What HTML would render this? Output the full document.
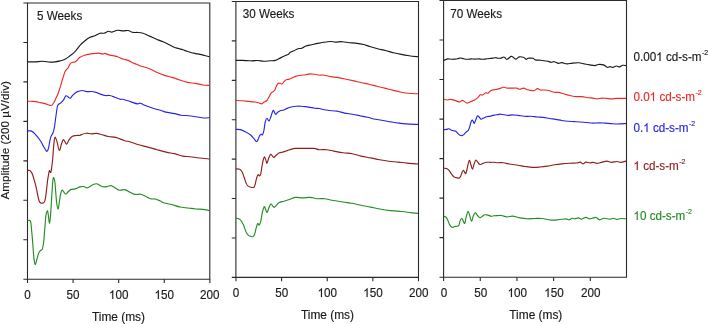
<!DOCTYPE html><html><head><meta charset="utf-8"><style>html,body{margin:0;padding:0;background:#fff;width:709px;height:324px;overflow:hidden}svg{display:block;will-change:transform}text{font-family:"Liberation Sans",sans-serif;stroke-width:0.15px}</style></head><body>
<svg width="709" height="324" viewBox="0 0 709 324">
<rect width="709" height="324" fill="#fff"/>
<path d="M27.5 3.0 H209.8 V279.2 H27.5 Z" fill="none" stroke="#2a2a2a" stroke-width="1.1"/>
<path d="M23.4 3.00 H27.5 M23.4 42.46 H27.5 M23.4 81.91 H27.5 M23.4 121.37 H27.5 M23.4 160.83 H27.5 M23.4 200.29 H27.5 M23.4 239.74 H27.5 M23.4 279.20 H27.5 M27.50 279.2 V283.0 M73.09 279.2 V283.0 M118.67 279.2 V283.0 M164.26 279.2 V283.0 M209.85 279.2 V283.0 " stroke="#2a2a2a" stroke-width="1.1" fill="none"/>
<g transform="translate(0 299.00) scale(1 1.045) translate(0 -299.00)"><text x="24.25" y="299.00" font-size="11.7" fill="#1a1a1a" stroke="#1a1a1a">0</text></g>
<g transform="translate(0 299.00) scale(1 1.045) translate(0 -299.00)"><text x="66.58" y="299.00" font-size="11.7" fill="#1a1a1a" stroke="#1a1a1a">50</text></g>
<g transform="translate(0 299.00) scale(1 1.045) translate(0 -299.00)"><text x="108.91" y="299.00" font-size="11.7" fill="#1a1a1a" stroke="#1a1a1a"> 00</text><path d="M113.27 299.00 L112.25 299.00 L112.25 292.45 C112.00 292.68 111.67 292.92 111.27 293.16 C110.87 293.39 110.51 293.57 110.20 293.69 L110.20 292.69 C110.77 292.42 111.26 292.10 111.69 291.72 C112.11 291.33 112.41 290.97 112.59 290.62 L113.27 290.62 Z" fill="#1a1a1a" stroke="#1a1a1a" stroke-width="0.15"/></g>
<g transform="translate(0 299.00) scale(1 1.045) translate(0 -299.00)"><text x="154.50" y="299.00" font-size="11.7" fill="#1a1a1a" stroke="#1a1a1a"> 50</text><path d="M158.86 299.00 L157.83 299.00 L157.83 292.45 C157.59 292.68 157.26 292.92 156.86 293.16 C156.46 293.39 156.10 293.57 155.79 293.69 L155.79 292.69 C156.35 292.42 156.85 292.10 157.27 291.72 C157.70 291.33 158.00 290.97 158.18 290.62 L158.86 290.62 Z" fill="#1a1a1a" stroke="#1a1a1a" stroke-width="0.15"/></g>
<g transform="translate(0 299.00) scale(1 1.045) translate(0 -299.00)"><text x="200.09" y="299.00" font-size="11.7" fill="#1a1a1a" stroke="#1a1a1a">200</text></g>
<g transform="translate(0 321.00) scale(1 1.045) translate(0 -321.00)"><text x="118.50" y="321.00" font-size="11.9" fill="#1a1a1a" stroke="#1a1a1a" text-anchor="middle">Time (ms)</text></g>
<g transform="translate(0 20.00) scale(1 1.045) translate(0 -20.00)"><text x="37.00" y="20.00" font-size="11.7" fill="#1a1a1a" stroke="#1a1a1a">5 Weeks</text></g>
<path d="M235.9 1.5 H418.5 V277.4 H235.9 Z" fill="none" stroke="#2a2a2a" stroke-width="1.1"/>
<path d="M231.8 1.50 H235.9 M231.8 40.91 H235.9 M231.8 80.33 H235.9 M231.8 119.74 H235.9 M231.8 159.16 H235.9 M231.8 198.57 H235.9 M231.8 237.99 H235.9 M231.8 277.40 H235.9 M235.95 277.4 V281.2 M281.59 277.4 V281.2 M327.23 277.4 V281.2 M372.86 277.4 V281.2 M418.50 277.4 V281.2 " stroke="#2a2a2a" stroke-width="1.1" fill="none"/>
<g transform="translate(0 297.00) scale(1 1.045) translate(0 -297.00)"><text x="232.85" y="297.00" font-size="11.7" fill="#1a1a1a" stroke="#1a1a1a">0</text></g>
<g transform="translate(0 297.00) scale(1 1.045) translate(0 -297.00)"><text x="275.23" y="297.00" font-size="11.7" fill="#1a1a1a" stroke="#1a1a1a">50</text></g>
<g transform="translate(0 297.00) scale(1 1.045) translate(0 -297.00)"><text x="317.61" y="297.00" font-size="11.7" fill="#1a1a1a" stroke="#1a1a1a"> 00</text><path d="M321.97 297.00 L320.95 297.00 L320.95 290.45 C320.70 290.68 320.37 290.92 319.97 291.16 C319.57 291.39 319.21 291.57 318.90 291.69 L318.90 290.69 C319.47 290.42 319.96 290.10 320.39 289.72 C320.81 289.33 321.11 288.97 321.29 288.62 L321.97 288.62 Z" fill="#1a1a1a" stroke="#1a1a1a" stroke-width="0.15"/></g>
<g transform="translate(0 297.00) scale(1 1.045) translate(0 -297.00)"><text x="363.25" y="297.00" font-size="11.7" fill="#1a1a1a" stroke="#1a1a1a"> 50</text><path d="M367.61 297.00 L366.58 297.00 L366.58 290.45 C366.34 290.68 366.01 290.92 365.61 291.16 C365.21 291.39 364.85 291.57 364.54 291.69 L364.54 290.69 C365.10 290.42 365.60 290.10 366.02 289.72 C366.45 289.33 366.75 288.97 366.93 288.62 L367.61 288.62 Z" fill="#1a1a1a" stroke="#1a1a1a" stroke-width="0.15"/></g>
<g transform="translate(0 297.00) scale(1 1.045) translate(0 -297.00)"><text x="408.89" y="297.00" font-size="11.7" fill="#1a1a1a" stroke="#1a1a1a">200</text></g>
<g transform="translate(0 319.00) scale(1 1.045) translate(0 -319.00)"><text x="327.50" y="319.00" font-size="11.9" fill="#1a1a1a" stroke="#1a1a1a" text-anchor="middle">Time (ms)</text></g>
<g transform="translate(0 18.00) scale(1 1.045) translate(0 -18.00)"><text x="242.70" y="18.00" font-size="11.7" fill="#1a1a1a" stroke="#1a1a1a">30 Weeks</text></g>
<path d="M443.6 0.5 H626.5 V277.2 H443.6 Z" fill="none" stroke="#2a2a2a" stroke-width="1.1"/>
<path d="M439.5 0.50 H443.6 M439.5 40.03 H443.6 M439.5 79.56 H443.6 M439.5 119.09 H443.6 M439.5 158.61 H443.6 M439.5 198.14 H443.6 M439.5 237.67 H443.6 M439.5 277.20 H443.6 M443.60 277.2 V281.0 M480.27 277.2 V281.0 M516.95 277.2 V281.0 M553.62 277.2 V281.0 M590.30 277.2 V281.0 " stroke="#2a2a2a" stroke-width="1.1" fill="none"/>
<g transform="translate(0 297.00) scale(1 1.045) translate(0 -297.00)"><text x="440.75" y="297.00" font-size="11.7" fill="#1a1a1a" stroke="#1a1a1a">0</text></g>
<g transform="translate(0 297.00) scale(1 1.045) translate(0 -297.00)"><text x="474.17" y="297.00" font-size="11.7" fill="#1a1a1a" stroke="#1a1a1a">50</text></g>
<g transform="translate(0 297.00) scale(1 1.045) translate(0 -297.00)"><text x="507.59" y="297.00" font-size="11.7" fill="#1a1a1a" stroke="#1a1a1a"> 00</text><path d="M511.95 297.00 L510.92 297.00 L510.92 290.45 C510.67 290.68 510.35 290.92 509.95 291.16 C509.55 291.39 509.19 291.57 508.87 291.69 L508.87 290.69 C509.44 290.42 509.94 290.10 510.36 289.72 C510.78 289.33 511.09 288.97 511.26 288.62 L511.95 288.62 Z" fill="#1a1a1a" stroke="#1a1a1a" stroke-width="0.15"/></g>
<g transform="translate(0 297.00) scale(1 1.045) translate(0 -297.00)"><text x="544.26" y="297.00" font-size="11.7" fill="#1a1a1a" stroke="#1a1a1a"> 50</text><path d="M548.62 297.00 L547.60 297.00 L547.60 290.45 C547.35 290.68 547.02 290.92 546.62 291.16 C546.22 291.39 545.86 291.57 545.55 291.69 L545.55 290.69 C546.12 290.42 546.61 290.10 547.04 289.72 C547.46 289.33 547.76 288.97 547.94 288.62 L548.62 288.62 Z" fill="#1a1a1a" stroke="#1a1a1a" stroke-width="0.15"/></g>
<g transform="translate(0 297.00) scale(1 1.045) translate(0 -297.00)"><text x="580.94" y="297.00" font-size="11.7" fill="#1a1a1a" stroke="#1a1a1a">200</text></g>
<g transform="translate(0 319.00) scale(1 1.045) translate(0 -319.00)"><text x="535.80" y="319.00" font-size="11.9" fill="#1a1a1a" stroke="#1a1a1a" text-anchor="middle">Time (ms)</text></g>
<g transform="translate(0 18.00) scale(1 1.045) translate(0 -18.00)"><text x="450.30" y="18.00" font-size="11.7" fill="#1a1a1a" stroke="#1a1a1a">70 Weeks</text></g>
<path d="M27.50 61.90 C28.75 61.90 32.58 62.00 35.00 61.90 C37.42 61.80 39.50 61.27 42.00 61.30 C44.50 61.33 47.83 62.00 50.00 62.10 C52.17 62.20 53.33 62.10 55.00 61.90 C56.67 61.70 58.33 61.33 60.00 60.90 C61.67 60.47 63.33 60.15 65.00 59.30 C66.67 58.45 68.33 57.08 70.00 55.80 C71.67 54.52 73.33 53.33 75.00 51.60 C76.67 49.87 78.33 47.20 80.00 45.40 C81.67 43.60 83.33 42.15 85.00 40.80 C86.67 39.45 88.33 38.15 90.00 37.30 C91.67 36.45 93.33 36.37 95.00 35.70 C96.67 35.03 98.47 33.72 100.00 33.30 C101.53 32.88 102.78 33.53 104.20 33.20 C105.62 32.87 107.20 31.48 108.50 31.30 C109.80 31.12 110.48 32.27 112.00 32.10 C113.52 31.93 115.72 30.50 117.60 30.30 C119.48 30.10 121.53 30.87 123.30 30.90 C125.07 30.93 126.68 30.27 128.20 30.50 C129.72 30.73 130.75 31.97 132.40 32.30 C134.05 32.63 136.33 32.33 138.10 32.50 C139.87 32.67 141.60 32.92 143.00 33.30 C144.40 33.68 145.33 34.28 146.50 34.80 C147.67 35.32 148.70 35.83 150.00 36.40 C151.30 36.97 152.87 37.58 154.30 38.20 C155.73 38.82 157.15 39.50 158.60 40.10 C160.05 40.70 161.55 41.18 163.00 41.80 C164.45 42.42 166.00 43.17 167.30 43.80 C168.60 44.43 169.65 45.03 170.80 45.60 C171.95 46.17 172.92 46.72 174.20 47.20 C175.48 47.68 177.07 48.07 178.50 48.50 C179.93 48.93 181.35 49.33 182.80 49.80 C184.25 50.27 185.75 50.82 187.20 51.30 C188.65 51.78 190.07 52.32 191.50 52.70 C192.93 53.08 194.37 53.32 195.80 53.60 C197.23 53.88 198.65 54.08 200.10 54.40 C201.55 54.72 202.93 55.10 204.50 55.50 C206.07 55.90 208.67 56.58 209.50 56.80" fill="none" stroke="#1a1a1a" stroke-width="1.15" stroke-linejoin="round" stroke-linecap="butt"/>
<path d="M27.50 101.30 C28.12 101.30 29.82 101.25 31.20 101.30 C32.58 101.35 34.27 101.38 35.80 101.60 C37.33 101.82 38.87 102.27 40.40 102.60 C41.93 102.93 43.72 103.25 45.00 103.60 C46.28 103.95 47.07 104.38 48.10 104.70 C49.13 105.02 50.30 105.75 51.20 105.50 C52.10 105.25 52.73 104.35 53.50 103.20 C54.27 102.05 55.02 100.27 55.80 98.60 C56.58 96.93 57.42 95.27 58.20 93.20 C58.98 91.13 59.73 88.65 60.50 86.20 C61.27 83.75 62.03 80.93 62.80 78.50 C63.57 76.07 64.20 73.40 65.10 71.60 C66.00 69.80 67.30 69.07 68.20 67.70 C69.10 66.33 69.73 64.30 70.50 63.40 C71.27 62.50 72.03 62.55 72.80 62.30 C73.57 62.05 74.33 62.28 75.10 61.90 C75.87 61.52 76.83 60.55 77.40 60.00 C77.97 59.45 78.07 59.05 78.50 58.60 C78.93 58.15 78.98 57.85 80.00 57.30 C81.02 56.75 83.00 55.83 84.60 55.30 C86.20 54.77 87.95 54.40 89.60 54.10 C91.25 53.80 92.95 53.67 94.50 53.50 C96.05 53.33 97.53 53.00 98.90 53.10 C100.27 53.20 101.68 54.05 102.70 54.10 C103.72 54.15 103.97 53.27 105.00 53.40 C106.03 53.53 107.48 54.50 108.90 54.90 C110.32 55.30 111.97 55.45 113.50 55.80 C115.03 56.15 116.55 56.47 118.10 57.00 C119.65 57.53 121.12 58.43 122.80 59.00 C124.48 59.57 126.67 59.83 128.20 60.40 C129.73 60.97 130.58 61.75 132.00 62.40 C133.42 63.05 135.17 63.67 136.70 64.30 C138.23 64.93 139.17 65.50 141.20 66.20 C143.23 66.90 146.33 67.48 148.90 68.50 C151.47 69.52 154.02 71.15 156.60 72.30 C159.18 73.45 161.82 74.55 164.40 75.40 C166.98 76.25 169.53 76.63 172.10 77.40 C174.67 78.17 177.23 79.17 179.80 80.00 C182.37 80.83 184.93 81.83 187.50 82.40 C190.07 82.97 192.63 82.97 195.20 83.40 C197.77 83.83 200.52 84.67 202.90 85.00 C205.28 85.33 208.40 85.33 209.50 85.40" fill="none" stroke="#ee2a24" stroke-width="1.15" stroke-linejoin="round" stroke-linecap="butt"/>
<path d="M27.50 131.00 C28.03 130.98 29.75 130.70 30.70 130.90 C31.65 131.10 32.17 131.33 33.20 132.20 C34.23 133.07 35.67 134.63 36.90 136.10 C38.13 137.57 39.58 139.45 40.60 141.00 C41.62 142.55 42.18 143.95 43.00 145.40 C43.82 146.85 44.83 148.72 45.50 149.70 C46.17 150.68 46.48 151.62 47.00 151.30 C47.52 150.98 48.13 149.52 48.60 147.80 C49.07 146.08 49.38 142.95 49.80 141.00 C50.22 139.05 50.58 137.43 51.10 136.10 C51.62 134.77 52.37 134.35 52.90 133.00 C53.43 131.65 53.82 130.67 54.30 128.00 C54.78 125.33 55.28 120.58 55.80 117.00 C56.32 113.42 56.95 108.58 57.40 106.50 C57.85 104.42 57.98 105.07 58.50 104.50 C59.02 103.93 60.05 103.45 60.50 103.10 C60.95 102.75 60.68 102.95 61.20 102.40 C61.72 101.85 62.82 100.90 63.60 99.80 C64.38 98.70 65.13 96.27 65.90 95.80 C66.67 95.33 67.48 96.60 68.20 97.00 C68.92 97.40 69.43 98.50 70.20 98.20 C70.97 97.90 71.85 96.17 72.80 95.20 C73.75 94.23 74.87 93.07 75.90 92.40 C76.93 91.73 77.97 91.52 79.00 91.20 C80.03 90.88 80.82 90.43 82.10 90.50 C83.38 90.57 85.17 91.43 86.70 91.60 C88.23 91.77 89.77 91.37 91.30 91.50 C92.83 91.63 94.35 91.95 95.90 92.40 C97.45 92.85 99.05 93.68 100.60 94.20 C102.15 94.72 103.67 95.28 105.20 95.50 C106.73 95.72 108.27 95.25 109.80 95.50 C111.33 95.75 112.70 96.37 114.40 97.00 C116.10 97.63 118.62 98.92 120.00 99.30 C121.38 99.68 120.97 98.92 122.70 99.30 C124.43 99.68 127.97 100.83 130.40 101.60 C132.83 102.37 135.62 103.63 137.30 103.90 C138.98 104.17 139.28 102.97 140.50 103.20 C141.72 103.43 142.52 104.47 144.60 105.30 C146.68 106.13 150.17 107.30 153.00 108.20 C155.83 109.10 159.45 110.05 161.60 110.70 C163.75 111.35 163.73 111.62 165.90 112.10 C168.07 112.58 172.08 113.08 174.60 113.60 C177.12 114.12 178.67 114.85 181.00 115.20 C183.33 115.55 186.07 115.43 188.60 115.70 C191.13 115.97 193.68 116.42 196.20 116.80 C198.72 117.18 201.48 117.85 203.70 118.00 C205.92 118.15 208.53 117.75 209.50 117.70" fill="none" stroke="#2626e6" stroke-width="1.15" stroke-linejoin="round" stroke-linecap="butt"/>
<path d="M27.50 170.40 C27.88 170.43 29.07 170.15 29.80 170.60 C30.53 171.05 31.35 172.17 31.90 173.10 C32.45 174.03 32.70 174.97 33.10 176.20 C33.50 177.43 33.88 179.07 34.30 180.50 C34.72 181.93 35.18 183.15 35.60 184.80 C36.02 186.45 36.40 188.45 36.80 190.40 C37.20 192.35 37.58 194.65 38.00 196.50 C38.42 198.35 38.78 200.40 39.30 201.50 C39.82 202.60 40.38 202.90 41.10 203.10 C41.82 203.30 42.98 203.07 43.60 202.70 C44.22 202.33 44.43 202.03 44.80 200.90 C45.17 199.77 45.48 197.97 45.80 195.90 C46.12 193.83 46.42 190.97 46.70 188.50 C46.98 186.03 47.20 183.37 47.50 181.10 C47.80 178.83 48.18 176.65 48.50 174.90 C48.82 173.15 49.00 171.08 49.40 170.60 C49.80 170.12 50.38 173.60 50.90 172.00 C51.42 170.40 52.05 165.17 52.50 161.00 C52.95 156.83 53.30 150.50 53.60 147.00 C53.90 143.50 54.05 141.67 54.30 140.00 C54.55 138.33 54.77 137.08 55.10 137.00 C55.43 136.92 55.95 138.62 56.30 139.50 C56.65 140.38 56.70 140.47 57.20 142.30 C57.70 144.13 58.57 150.30 59.30 150.50 C60.03 150.70 60.92 145.32 61.60 143.50 C62.28 141.68 62.78 139.80 63.40 139.60 C64.02 139.40 64.73 141.55 65.30 142.30 C65.87 143.05 66.18 144.52 66.80 144.10 C67.42 143.68 68.12 141.08 69.00 139.80 C69.88 138.52 70.87 137.12 72.10 136.40 C73.33 135.68 75.08 135.67 76.40 135.50 C77.72 135.33 79.18 135.55 80.00 135.40 C80.82 135.25 80.23 134.97 81.30 134.60 C82.37 134.23 84.78 133.33 86.40 133.20 C88.02 133.07 89.32 133.77 91.00 133.80 C92.68 133.83 94.67 133.25 96.50 133.40 C98.33 133.55 100.02 134.18 102.00 134.70 C103.98 135.22 106.10 136.05 108.40 136.50 C110.70 136.95 113.20 136.73 115.80 137.40 C118.40 138.07 121.57 139.73 124.00 140.50 C126.43 141.27 127.95 141.28 130.40 142.00 C132.85 142.72 135.80 143.95 138.70 144.80 C141.60 145.65 144.75 146.28 147.80 147.10 C150.85 147.92 153.93 148.87 157.00 149.70 C160.07 150.53 163.15 151.40 166.20 152.10 C169.25 152.80 172.55 153.23 175.30 153.90 C178.05 154.57 180.25 155.63 182.70 156.10 C185.15 156.57 187.25 156.38 190.00 156.70 C192.75 157.02 195.95 157.62 199.20 158.00 C202.45 158.38 207.78 158.83 209.50 159.00" fill="none" stroke="#8e1e1e" stroke-width="1.15" stroke-linejoin="round" stroke-linecap="butt"/>
<path d="M27.50 220.50 C28.00 220.63 29.82 219.72 30.50 221.30 C31.18 222.88 31.22 226.22 31.60 230.00 C31.98 233.78 32.42 239.35 32.80 244.00 C33.18 248.65 33.52 254.50 33.90 257.90 C34.28 261.30 34.63 264.02 35.10 264.40 C35.57 264.78 36.12 262.07 36.70 260.20 C37.28 258.33 37.98 254.82 38.60 253.20 C39.22 251.58 39.78 251.18 40.40 250.50 C41.02 249.82 41.75 250.57 42.30 249.10 C42.85 247.63 43.33 244.55 43.70 241.70 C44.07 238.85 44.27 234.70 44.50 232.00 C44.73 229.30 44.88 228.12 45.10 225.50 C45.32 222.88 45.43 218.73 45.80 216.30 C46.17 213.87 46.90 211.22 47.30 210.90 C47.70 210.58 47.83 212.30 48.20 214.40 C48.57 216.50 49.10 223.50 49.50 223.50 C49.90 223.50 50.20 219.32 50.60 214.40 C51.00 209.48 51.53 199.55 51.90 194.00 C52.27 188.45 52.50 183.83 52.80 181.10 C53.10 178.37 53.33 177.28 53.70 177.60 C54.07 177.92 54.53 179.02 55.00 183.00 C55.47 186.98 56.00 197.17 56.50 201.50 C57.00 205.83 57.53 208.85 58.00 209.00 C58.47 209.15 58.87 204.90 59.30 202.40 C59.73 199.90 60.13 196.07 60.60 194.00 C61.07 191.93 61.55 190.30 62.10 190.00 C62.65 189.70 63.28 191.50 63.90 192.20 C64.52 192.90 65.02 194.35 65.80 194.20 C66.58 194.05 67.68 192.10 68.60 191.30 C69.52 190.50 70.22 189.80 71.30 189.40 C72.38 189.00 73.65 189.32 75.10 188.90 C76.55 188.48 78.57 187.30 80.00 186.90 C81.43 186.50 82.48 186.35 83.70 186.50 C84.92 186.65 85.93 188.02 87.30 187.80 C88.67 187.58 90.37 185.87 91.90 185.20 C93.43 184.53 95.12 183.73 96.50 183.80 C97.88 183.87 98.98 185.08 100.20 185.60 C101.42 186.12 102.58 186.75 103.80 186.90 C105.02 187.05 106.27 186.72 107.50 186.50 C108.73 186.28 109.98 185.38 111.20 185.60 C112.42 185.82 113.43 187.03 114.80 187.80 C116.17 188.57 117.72 189.90 119.40 190.20 C121.08 190.50 123.22 189.30 124.90 189.60 C126.58 189.90 127.82 191.20 129.50 192.00 C131.18 192.80 133.17 194.03 135.00 194.40 C136.83 194.77 138.82 193.93 140.50 194.20 C142.18 194.47 143.42 195.23 145.10 196.00 C146.78 196.77 148.92 198.30 150.60 198.80 C152.28 199.30 153.67 198.67 155.20 199.00 C156.73 199.33 158.28 200.13 159.80 200.80 C161.32 201.47 162.32 202.38 164.30 203.00 C166.28 203.62 169.10 203.83 171.70 204.50 C174.30 205.17 177.15 206.42 179.90 207.00 C182.65 207.58 185.60 207.67 188.20 208.00 C190.80 208.33 193.07 208.77 195.50 209.00 C197.93 209.23 200.47 209.12 202.80 209.40 C205.13 209.68 208.38 210.48 209.50 210.70" fill="none" stroke="#258d25" stroke-width="1.15" stroke-linejoin="round" stroke-linecap="butt"/>
<path d="M235.90 60.40 C236.97 60.40 239.70 60.33 242.30 60.40 C244.90 60.47 248.93 60.78 251.50 60.80 C254.07 60.82 255.65 60.43 257.70 60.50 C259.75 60.57 261.75 61.15 263.80 61.20 C265.85 61.25 268.07 60.93 270.00 60.80 C271.93 60.67 273.85 60.78 275.40 60.40 C276.95 60.02 277.88 59.20 279.30 58.50 C280.72 57.80 282.37 56.92 283.90 56.20 C285.43 55.48 287.48 54.83 288.50 54.20 C289.52 53.57 289.08 52.97 290.00 52.40 C290.92 51.83 292.68 51.42 294.00 50.80 C295.32 50.18 296.60 49.13 297.90 48.70 C299.20 48.27 300.48 48.65 301.80 48.20 C303.12 47.75 304.15 46.58 305.80 46.00 C307.45 45.42 309.73 45.13 311.70 44.70 C313.67 44.27 315.62 43.80 317.60 43.40 C319.58 43.00 321.45 42.62 323.60 42.30 C325.75 41.98 328.53 41.53 330.50 41.50 C332.47 41.47 333.43 42.07 335.40 42.10 C337.37 42.13 340.00 41.60 342.30 41.70 C344.60 41.80 346.98 42.47 349.20 42.70 C351.42 42.93 353.17 42.80 355.60 43.10 C358.03 43.40 361.45 43.93 363.80 44.50 C366.15 45.07 367.40 45.78 369.70 46.50 C372.00 47.22 374.97 48.13 377.60 48.80 C380.23 49.47 382.87 49.85 385.50 50.50 C388.13 51.15 390.77 52.05 393.40 52.70 C396.03 53.35 398.67 53.90 401.30 54.40 C403.93 54.90 406.42 55.30 409.20 55.70 C411.98 56.10 416.53 56.62 418.00 56.80" fill="none" stroke="#1a1a1a" stroke-width="1.15" stroke-linejoin="round" stroke-linecap="butt"/>
<path d="M235.90 100.50 C236.97 100.55 240.22 100.65 242.30 100.80 C244.38 100.95 246.35 101.20 248.40 101.40 C250.45 101.60 252.93 101.77 254.60 102.00 C256.27 102.23 257.25 102.48 258.40 102.80 C259.55 103.12 260.60 103.98 261.50 103.90 C262.40 103.82 262.90 102.87 263.80 102.30 C264.70 101.73 266.00 101.45 266.90 100.50 C267.80 99.55 268.48 97.88 269.20 96.60 C269.92 95.32 270.50 93.65 271.20 92.80 C271.90 91.95 272.77 92.02 273.40 91.50 C274.03 90.98 274.48 90.65 275.00 89.70 C275.52 88.75 276.00 86.83 276.50 85.80 C277.00 84.77 277.42 83.93 278.00 83.50 C278.58 83.07 279.33 83.12 280.00 83.20 C280.67 83.28 281.35 84.25 282.00 84.00 C282.65 83.75 283.20 82.42 283.90 81.70 C284.60 80.98 285.30 80.12 286.20 79.70 C287.10 79.28 288.27 79.52 289.30 79.20 C290.33 78.88 291.25 78.32 292.40 77.80 C293.55 77.28 294.78 76.52 296.20 76.10 C297.62 75.68 299.35 75.53 300.90 75.30 C302.45 75.07 303.97 74.93 305.50 74.70 C307.03 74.47 308.57 73.97 310.10 73.90 C311.63 73.83 313.15 74.08 314.70 74.30 C316.25 74.52 318.02 75.08 319.40 75.20 C320.78 75.32 321.12 74.77 323.00 75.00 C324.88 75.23 328.13 76.17 330.70 76.60 C333.27 77.03 335.83 77.17 338.40 77.60 C340.97 78.03 343.53 78.65 346.10 79.20 C348.67 79.75 351.22 80.32 353.80 80.90 C356.38 81.48 359.02 82.13 361.60 82.70 C364.18 83.27 366.73 83.70 369.30 84.30 C371.87 84.90 374.43 85.67 377.00 86.30 C379.57 86.93 382.13 87.47 384.70 88.10 C387.27 88.73 389.83 89.45 392.40 90.10 C394.97 90.75 397.53 91.48 400.10 92.00 C402.67 92.52 404.82 92.90 407.80 93.20 C410.78 93.50 416.30 93.70 418.00 93.80" fill="none" stroke="#ee2a24" stroke-width="1.15" stroke-linejoin="round" stroke-linecap="butt"/>
<path d="M235.90 129.40 C236.65 129.43 238.83 129.22 240.40 129.60 C241.97 129.98 243.65 130.85 245.30 131.70 C246.95 132.55 248.85 133.55 250.30 134.70 C251.75 135.85 252.97 137.43 254.00 138.60 C255.03 139.77 255.78 141.63 256.50 141.70 C257.22 141.77 257.80 139.97 258.30 139.00 C258.80 138.03 259.03 136.70 259.50 135.90 C259.97 135.10 260.58 134.38 261.10 134.20 C261.62 134.02 262.13 135.42 262.60 134.80 C263.07 134.18 263.45 132.70 263.90 130.50 C264.35 128.30 264.78 123.63 265.30 121.60 C265.82 119.57 266.38 118.40 267.00 118.30 C267.62 118.20 268.38 121.17 269.00 121.00 C269.62 120.83 270.15 118.75 270.70 117.30 C271.25 115.85 271.82 113.43 272.30 112.30 C272.78 111.17 273.05 110.17 273.60 110.50 C274.15 110.83 274.92 114.02 275.60 114.30 C276.28 114.58 276.83 112.83 277.70 112.20 C278.57 111.57 279.77 110.87 280.80 110.50 C281.83 110.13 282.87 110.35 283.90 110.00 C284.93 109.65 285.77 108.90 287.00 108.40 C288.23 107.90 289.77 107.35 291.30 107.00 C292.83 106.65 294.60 106.43 296.20 106.30 C297.80 106.17 299.35 106.15 300.90 106.20 C302.45 106.25 303.97 106.40 305.50 106.60 C307.03 106.80 308.57 107.13 310.10 107.40 C311.63 107.67 313.15 108.02 314.70 108.20 C316.25 108.38 318.02 108.28 319.40 108.50 C320.78 108.72 321.37 109.17 323.00 109.50 C324.63 109.83 326.88 110.23 329.20 110.50 C331.52 110.77 334.33 110.67 336.90 111.10 C339.47 111.53 342.03 112.58 344.60 113.10 C347.17 113.62 349.73 113.77 352.30 114.20 C354.87 114.63 357.43 115.18 360.00 115.70 C362.57 116.22 365.13 116.70 367.70 117.30 C370.27 117.90 372.83 118.77 375.40 119.30 C377.97 119.83 380.52 120.07 383.10 120.50 C385.68 120.93 388.32 121.47 390.90 121.90 C393.48 122.33 396.03 122.77 398.60 123.10 C401.17 123.43 403.07 123.68 406.30 123.90 C409.53 124.12 416.05 124.32 418.00 124.40" fill="none" stroke="#2626e6" stroke-width="1.15" stroke-linejoin="round" stroke-linecap="butt"/>
<path d="M235.90 168.90 C236.55 168.97 238.73 168.73 239.80 169.30 C240.87 169.87 241.58 170.97 242.30 172.30 C243.02 173.63 243.48 175.55 244.10 177.30 C244.72 179.05 245.38 181.37 246.00 182.80 C246.62 184.23 246.98 185.17 247.80 185.90 C248.62 186.63 249.87 186.98 250.90 187.20 C251.93 187.42 253.28 187.72 254.00 187.20 C254.72 186.68 254.78 185.55 255.20 184.10 C255.62 182.65 256.02 180.08 256.50 178.50 C256.98 176.92 257.60 175.02 258.10 174.60 C258.60 174.18 259.05 176.17 259.50 176.00 C259.95 175.83 260.38 175.23 260.80 173.60 C261.22 171.97 261.60 168.47 262.00 166.20 C262.40 163.93 262.78 161.55 263.20 160.00 C263.62 158.45 264.08 156.97 264.50 156.90 C264.92 156.83 265.28 158.53 265.70 159.60 C266.12 160.67 266.48 163.60 267.00 163.30 C267.52 163.00 268.18 159.30 268.80 157.80 C269.42 156.30 270.12 154.62 270.70 154.30 C271.28 153.98 271.80 155.38 272.30 155.90 C272.80 156.42 273.05 157.50 273.70 157.40 C274.35 157.30 275.27 156.07 276.20 155.30 C277.13 154.53 278.27 153.32 279.30 152.80 C280.33 152.28 281.27 152.50 282.40 152.20 C283.53 151.90 284.87 151.40 286.10 151.00 C287.33 150.60 288.27 150.23 289.80 149.80 C291.33 149.37 293.15 148.63 295.30 148.40 C297.45 148.17 299.63 148.40 302.70 148.40 C305.77 148.40 310.95 148.18 313.70 148.40 C316.45 148.62 317.07 149.48 319.20 149.70 C321.33 149.92 324.07 149.47 326.50 149.70 C328.93 149.93 331.05 150.58 333.80 151.10 C336.55 151.62 339.93 152.37 343.00 152.80 C346.07 153.23 349.15 153.15 352.20 153.70 C355.25 154.25 358.25 155.40 361.30 156.10 C364.35 156.80 367.43 157.28 370.50 157.90 C373.57 158.52 376.65 159.25 379.70 159.80 C382.75 160.35 385.75 160.82 388.80 161.20 C391.85 161.58 394.93 161.78 398.00 162.10 C401.07 162.42 403.87 162.78 407.20 163.10 C410.53 163.42 416.20 163.85 418.00 164.00" fill="none" stroke="#8e1e1e" stroke-width="1.15" stroke-linejoin="round" stroke-linecap="butt"/>
<path d="M235.90 218.10 C236.45 218.23 238.27 218.38 239.20 218.90 C240.13 219.42 240.73 220.05 241.50 221.20 C242.27 222.35 243.03 224.00 243.80 225.80 C244.57 227.60 245.33 230.40 246.10 232.00 C246.87 233.60 247.63 234.68 248.40 235.40 C249.17 236.12 249.92 236.10 250.70 236.30 C251.48 236.50 252.45 236.93 253.10 236.60 C253.75 236.27 254.10 235.70 254.60 234.30 C255.10 232.90 255.58 230.00 256.10 228.20 C256.62 226.40 257.18 224.02 257.70 223.50 C258.22 222.98 258.68 225.48 259.20 225.10 C259.72 224.72 260.28 223.27 260.80 221.20 C261.32 219.13 261.73 215.13 262.30 212.70 C262.87 210.27 263.63 207.10 264.20 206.60 C264.77 206.10 265.20 208.75 265.70 209.70 C266.20 210.65 266.68 212.57 267.20 212.30 C267.72 212.03 268.20 209.50 268.80 208.10 C269.40 206.70 270.13 204.23 270.80 203.90 C271.47 203.57 272.22 205.53 272.80 206.10 C273.38 206.67 273.60 207.55 274.30 207.30 C275.00 207.05 276.17 205.42 277.00 204.60 C277.83 203.78 278.15 202.97 279.30 202.40 C280.45 201.83 282.37 201.63 283.90 201.20 C285.43 200.77 286.60 200.43 288.50 199.80 C290.40 199.17 292.93 197.73 295.30 197.40 C297.67 197.07 300.25 197.80 302.70 197.80 C305.15 197.80 307.57 197.25 310.00 197.40 C312.43 197.55 314.85 198.48 317.30 198.70 C319.75 198.92 322.25 198.45 324.70 198.70 C327.15 198.95 328.95 199.65 332.00 200.20 C335.05 200.75 339.63 201.48 343.00 202.00 C346.37 202.52 349.15 202.75 352.20 203.30 C355.25 203.85 358.25 204.67 361.30 205.30 C364.35 205.93 367.43 206.48 370.50 207.10 C373.57 207.72 376.33 208.42 379.70 209.00 C383.07 209.58 387.03 210.18 390.70 210.60 C394.37 211.02 398.35 211.17 401.70 211.50 C405.05 211.83 408.08 212.28 410.80 212.60 C413.52 212.92 416.80 213.27 418.00 213.40" fill="none" stroke="#258d25" stroke-width="1.15" stroke-linejoin="round" stroke-linecap="butt"/>
<path d="M443.90 60.40 C444.17 60.27 444.85 59.85 445.50 59.60 C446.15 59.35 446.88 58.97 447.80 58.90 C448.72 58.83 449.88 59.17 451.00 59.20 C452.12 59.23 453.42 59.17 454.50 59.10 C455.58 59.03 456.50 58.98 457.50 58.80 C458.50 58.62 459.58 58.03 460.50 58.00 C461.42 57.97 462.17 58.40 463.00 58.60 C463.83 58.80 464.58 59.10 465.50 59.20 C466.42 59.30 467.50 59.25 468.50 59.20 C469.50 59.15 470.42 58.92 471.50 58.90 C472.58 58.88 473.73 59.10 475.00 59.10 C476.27 59.10 477.93 58.88 479.10 58.90 C480.27 58.92 481.02 59.17 482.00 59.20 C482.98 59.23 483.65 59.22 485.00 59.10 C486.35 58.98 488.42 58.73 490.10 58.50 C491.78 58.27 494.03 57.80 495.10 57.70 C496.17 57.60 496.02 57.82 496.50 57.90 C496.98 57.98 497.22 58.17 498.00 58.20 C498.78 58.23 500.33 58.30 501.20 58.10 C502.07 57.90 502.60 57.10 503.20 57.00 C503.80 56.90 504.17 57.12 504.80 57.50 C505.43 57.88 505.95 59.48 507.00 59.30 C508.05 59.12 510.12 56.77 511.10 56.40 C512.08 56.03 512.12 56.65 512.90 57.10 C513.68 57.55 514.75 59.13 515.80 59.10 C516.85 59.07 517.95 57.20 519.20 56.90 C520.45 56.60 522.10 56.90 523.30 57.30 C524.50 57.70 525.65 59.15 526.40 59.30 C527.15 59.45 527.20 58.40 527.80 58.20 C528.40 58.00 529.10 58.08 530.00 58.10 C530.90 58.12 532.32 58.00 533.20 58.30 C534.08 58.60 534.03 59.58 535.30 59.90 C536.57 60.22 539.32 60.05 540.80 60.20 C542.28 60.35 542.92 60.60 544.20 60.80 C545.48 61.00 547.37 61.15 548.50 61.40 C549.63 61.65 550.05 62.25 551.00 62.30 C551.95 62.35 552.95 61.52 554.20 61.70 C555.45 61.88 557.25 63.25 558.50 63.40 C559.75 63.55 560.27 62.52 561.70 62.60 C563.13 62.68 565.32 63.82 567.10 63.90 C568.88 63.98 570.43 63.28 572.40 63.10 C574.37 62.92 576.93 62.67 578.90 62.80 C580.87 62.93 582.42 63.55 584.20 63.90 C585.98 64.25 587.82 64.62 589.60 64.90 C591.38 65.18 593.47 65.67 594.90 65.60 C596.33 65.53 596.77 64.62 598.20 64.50 C599.63 64.38 601.98 64.43 603.50 64.90 C605.02 65.37 606.22 67.02 607.30 67.30 C608.38 67.58 609.10 66.58 610.00 66.60 C610.90 66.62 611.63 67.50 612.70 67.40 C613.77 67.30 615.25 66.08 616.40 66.00 C617.55 65.92 618.53 67.02 619.60 66.90 C620.67 66.78 621.73 65.52 622.80 65.30 C623.87 65.08 625.47 65.55 626.00 65.60" fill="none" stroke="#1a1a1a" stroke-width="1.15" stroke-linejoin="round" stroke-linecap="butt"/>
<path d="M443.90 99.40 C444.45 99.50 446.13 100.00 447.20 100.00 C448.27 100.00 449.02 99.33 450.30 99.40 C451.58 99.47 453.37 99.97 454.90 100.40 C456.43 100.83 458.22 102.00 459.50 102.00 C460.78 102.00 461.37 100.22 462.60 100.40 C463.83 100.58 465.48 102.92 466.90 103.10 C468.32 103.28 469.77 102.07 471.10 101.50 C472.43 100.93 473.75 100.38 474.90 99.70 C476.05 99.02 477.10 98.23 478.00 97.40 C478.90 96.57 479.53 95.10 480.30 94.70 C481.07 94.30 481.70 95.33 482.60 95.00 C483.50 94.67 484.80 93.00 485.70 92.70 C486.60 92.40 487.10 93.58 488.00 93.20 C488.90 92.82 489.93 90.98 491.10 90.40 C492.27 89.82 493.58 90.00 495.00 89.70 C496.42 89.40 498.18 89.00 499.60 88.60 C501.02 88.20 502.22 87.38 503.50 87.30 C504.78 87.22 505.90 87.97 507.30 88.10 C508.70 88.23 510.35 88.10 511.90 88.10 C513.45 88.10 515.30 87.92 516.60 88.10 C517.90 88.28 518.55 89.20 519.70 89.20 C520.85 89.20 522.22 88.02 523.50 88.10 C524.78 88.18 526.15 89.32 527.40 89.70 C528.65 90.08 529.88 90.23 531.00 90.40 C532.12 90.57 533.02 91.00 534.10 90.70 C535.18 90.40 536.47 88.72 537.50 88.60 C538.53 88.48 539.07 89.77 540.30 90.00 C541.53 90.23 543.37 89.88 544.90 90.00 C546.43 90.12 547.97 90.32 549.50 90.70 C551.03 91.08 552.55 92.02 554.10 92.30 C555.65 92.58 557.25 92.15 558.80 92.40 C560.35 92.65 561.60 93.28 563.40 93.80 C565.20 94.32 567.55 95.03 569.60 95.50 C571.65 95.97 573.65 96.42 575.70 96.60 C577.75 96.78 579.83 96.42 581.90 96.60 C583.97 96.78 586.30 97.45 588.10 97.70 C589.90 97.95 591.17 97.90 592.70 98.10 C594.23 98.30 595.77 98.90 597.30 98.90 C598.83 98.90 600.35 98.18 601.90 98.10 C603.45 98.02 605.05 98.27 606.60 98.40 C608.15 98.53 609.40 98.90 611.20 98.90 C613.00 98.90 614.93 98.48 617.40 98.40 C619.87 98.32 624.57 98.40 626.00 98.40" fill="none" stroke="#ee2a24" stroke-width="1.15" stroke-linejoin="round" stroke-linecap="butt"/>
<path d="M443.90 129.70 C444.35 129.65 445.75 129.55 446.60 129.40 C447.45 129.25 448.18 128.65 449.00 128.80 C449.82 128.95 450.67 129.95 451.50 130.30 C452.33 130.65 453.28 130.75 454.00 130.90 C454.72 131.05 455.18 130.78 455.80 131.20 C456.42 131.62 457.08 132.78 457.70 133.40 C458.32 134.02 458.78 134.53 459.50 134.90 C460.22 135.27 461.28 135.65 462.00 135.60 C462.72 135.55 463.18 135.13 463.80 134.60 C464.42 134.07 465.13 132.97 465.70 132.40 C466.27 131.83 466.75 131.55 467.20 131.20 C467.65 130.85 468.00 130.97 468.40 130.30 C468.80 129.63 469.18 128.53 469.60 127.20 C470.02 125.87 470.48 123.48 470.90 122.30 C471.32 121.12 471.70 120.20 472.10 120.10 C472.50 120.00 472.93 121.17 473.30 121.70 C473.67 122.23 473.88 123.62 474.30 123.30 C474.72 122.98 475.28 121.03 475.80 119.80 C476.32 118.57 476.82 116.32 477.40 115.90 C477.98 115.48 478.68 116.75 479.30 117.30 C479.92 117.85 480.38 119.08 481.10 119.20 C481.82 119.32 482.67 118.42 483.60 118.00 C484.53 117.58 485.57 117.00 486.70 116.70 C487.83 116.40 489.17 116.47 490.40 116.20 C491.63 115.93 492.87 115.37 494.10 115.10 C495.33 114.83 496.65 114.75 497.80 114.60 C498.95 114.45 499.28 114.07 501.00 114.20 C502.72 114.33 506.28 115.30 508.10 115.40 C509.92 115.50 510.23 114.80 511.90 114.80 C513.57 114.80 516.03 115.15 518.10 115.40 C520.17 115.65 522.15 116.15 524.30 116.30 C526.45 116.45 528.85 116.18 531.00 116.30 C533.15 116.42 535.15 116.82 537.20 117.00 C539.25 117.18 541.25 117.15 543.30 117.40 C545.35 117.65 547.43 118.17 549.50 118.50 C551.57 118.83 553.65 119.07 555.70 119.40 C557.75 119.73 559.75 120.18 561.80 120.50 C563.85 120.82 565.93 121.12 568.00 121.30 C570.07 121.48 572.13 121.48 574.20 121.60 C576.27 121.72 578.35 121.85 580.40 122.00 C582.45 122.15 584.45 122.32 586.50 122.50 C588.55 122.68 590.63 123.05 592.70 123.10 C594.77 123.15 596.85 122.80 598.90 122.80 C600.95 122.80 602.95 122.97 605.00 123.10 C607.05 123.23 609.13 123.45 611.20 123.60 C613.27 123.75 614.93 124.00 617.40 124.00 C619.87 124.00 624.57 123.67 626.00 123.60" fill="none" stroke="#2626e6" stroke-width="1.15" stroke-linejoin="round" stroke-linecap="butt"/>
<path d="M443.90 168.20 C444.35 168.25 445.75 168.15 446.60 168.50 C447.45 168.85 448.18 169.38 449.00 170.30 C449.82 171.22 450.67 172.90 451.50 174.00 C452.33 175.10 453.18 176.28 454.00 176.90 C454.82 177.52 455.52 177.50 456.40 177.70 C457.28 177.90 458.57 178.40 459.30 178.10 C460.03 177.80 460.32 176.93 460.80 175.90 C461.28 174.87 461.75 172.83 462.20 171.90 C462.65 170.97 463.08 170.22 463.50 170.30 C463.92 170.38 464.30 171.88 464.70 172.40 C465.10 172.92 465.48 174.05 465.90 173.40 C466.32 172.75 466.78 170.25 467.20 168.50 C467.62 166.75 468.00 164.25 468.40 162.90 C468.80 161.55 469.18 160.08 469.60 160.40 C470.02 160.72 470.42 163.35 470.90 164.80 C471.38 166.25 471.97 169.22 472.50 169.10 C473.03 168.98 473.55 165.60 474.10 164.10 C474.65 162.60 475.18 160.40 475.80 160.10 C476.42 159.80 477.12 161.57 477.80 162.30 C478.48 163.03 479.03 164.33 479.90 164.50 C480.77 164.67 481.87 163.67 483.00 163.30 C484.13 162.93 485.47 162.47 486.70 162.30 C487.93 162.13 489.17 162.30 490.40 162.30 C491.63 162.30 492.87 162.23 494.10 162.30 C495.33 162.37 496.27 162.62 497.80 162.70 C499.33 162.78 501.15 162.53 503.30 162.80 C505.45 163.07 508.25 163.90 510.70 164.30 C513.15 164.70 515.57 164.83 518.00 165.20 C520.43 165.57 522.85 166.13 525.30 166.50 C527.75 166.87 530.25 167.32 532.70 167.40 C535.15 167.48 537.57 167.22 540.00 167.00 C542.43 166.78 544.85 166.47 547.30 166.10 C549.75 165.73 552.25 165.17 554.70 164.80 C557.15 164.43 559.57 164.15 562.00 163.90 C564.43 163.65 566.85 163.45 569.30 163.30 C571.75 163.15 574.87 163.20 576.70 163.00 C578.53 162.80 579.23 161.95 580.30 162.10 C581.37 162.25 582.18 163.90 583.10 163.90 C584.02 163.90 584.73 162.28 585.80 162.10 C586.87 161.92 588.27 162.75 589.50 162.80 C590.73 162.85 591.98 162.32 593.20 162.40 C594.42 162.48 595.43 163.30 596.80 163.30 C598.17 163.30 599.72 162.77 601.40 162.40 C603.08 162.03 605.22 161.10 606.90 161.10 C608.58 161.10 609.82 162.33 611.50 162.40 C613.18 162.47 615.47 161.50 617.00 161.50 C618.53 161.50 619.20 162.47 620.70 162.40 C622.20 162.33 625.12 161.32 626.00 161.10" fill="none" stroke="#8e1e1e" stroke-width="1.15" stroke-linejoin="round" stroke-linecap="butt"/>
<path d="M443.90 216.60 C444.23 216.67 445.25 216.38 445.90 217.00 C446.55 217.62 447.18 219.03 447.80 220.30 C448.42 221.57 448.88 223.43 449.60 224.60 C450.32 225.77 451.27 226.98 452.10 227.30 C452.93 227.62 453.78 226.68 454.60 226.50 C455.42 226.32 456.28 226.42 457.00 226.20 C457.72 225.98 458.38 226.08 458.90 225.20 C459.42 224.32 459.63 222.07 460.10 220.90 C460.57 219.73 461.18 218.20 461.70 218.20 C462.22 218.20 462.70 220.03 463.20 220.90 C463.70 221.77 464.18 224.12 464.70 223.40 C465.22 222.68 465.72 218.60 466.30 216.60 C466.88 214.60 467.58 211.40 468.20 211.40 C468.82 211.40 469.43 214.97 470.00 216.60 C470.57 218.23 471.05 221.30 471.60 221.20 C472.15 221.10 472.68 217.42 473.30 216.00 C473.92 214.58 474.62 212.80 475.30 212.70 C475.98 212.60 476.63 214.55 477.40 215.40 C478.17 216.25 479.07 217.67 479.90 217.80 C480.73 217.93 481.58 216.70 482.40 216.20 C483.22 215.70 483.88 214.98 484.80 214.80 C485.72 214.62 486.87 214.87 487.90 215.10 C488.93 215.33 489.97 216.10 491.00 216.20 C492.03 216.30 492.97 215.80 494.10 215.70 C495.23 215.60 496.57 215.63 497.80 215.60 C499.03 215.57 499.97 215.27 501.50 215.50 C503.03 215.73 505.17 216.90 507.00 217.00 C508.83 217.10 510.37 215.95 512.50 216.10 C514.63 216.25 517.35 217.45 519.80 217.90 C522.25 218.35 524.75 218.70 527.20 218.80 C529.65 218.90 532.07 218.55 534.50 218.50 C536.93 218.45 539.05 218.23 541.80 218.50 C544.55 218.77 548.25 219.88 551.00 220.10 C553.75 220.32 555.85 220.02 558.30 219.80 C560.75 219.58 563.87 218.80 565.70 218.80 C567.53 218.80 568.23 219.88 569.30 219.80 C570.37 219.72 571.18 218.47 572.10 218.30 C573.02 218.13 573.73 218.87 574.80 218.80 C575.87 218.73 577.42 217.83 578.50 217.90 C579.58 217.97 580.08 219.28 581.30 219.20 C582.52 219.12 584.43 217.47 585.80 217.40 C587.17 217.33 588.42 218.65 589.50 218.80 C590.58 218.95 591.23 218.53 592.30 218.30 C593.37 218.07 594.68 217.15 595.90 217.40 C597.12 217.65 598.22 219.65 599.60 219.80 C600.98 219.95 602.52 218.40 604.20 218.30 C605.88 218.20 608.18 219.20 609.70 219.20 C611.22 219.20 612.10 218.27 613.30 218.30 C614.50 218.33 615.67 219.37 616.90 219.40 C618.13 219.43 619.18 218.60 620.70 218.50 C622.22 218.40 625.12 218.75 626.00 218.80" fill="none" stroke="#258d25" stroke-width="1.15" stroke-linejoin="round" stroke-linecap="butt"/>
<text transform="translate(8.9 199.6) rotate(-90)" font-size="11.7" fill="#1a1a1a" stroke="#1a1a1a">Amplitude (200 µV/div)</text>
<g transform="translate(0 61.00) scale(1 1.045) translate(0 -61.00)"><text x="633.40" y="61.00" font-size="11.7" fill="#1a1a1a" stroke="#1a1a1a">0.00  cd-s-m<tspan font-size="7" dx="0.4" dy="-5.8">-2</tspan></text><path d="M660.53 61.00 L659.50 61.00 L659.50 54.45 C659.26 54.68 658.93 54.92 658.53 55.16 C658.13 55.39 657.77 55.57 657.46 55.69 L657.46 54.69 C658.02 54.42 658.52 54.10 658.94 53.72 C659.37 53.33 659.67 52.97 659.84 52.62 L660.53 52.62 Z" fill="#1a1a1a" stroke="#1a1a1a" stroke-width="0.15"/></g>
<g transform="translate(0 101.00) scale(1 1.045) translate(0 -101.00)"><text x="633.40" y="101.00" font-size="11.7" fill="#ee2a24" stroke="#ee2a24">0.0  cd-s-m<tspan font-size="7" dx="0.4" dy="-5.8">-2</tspan></text><path d="M654.02 101.00 L653.00 101.00 L653.00 94.45 C652.75 94.68 652.42 94.92 652.02 95.16 C651.62 95.39 651.26 95.57 650.95 95.69 L650.95 94.69 C651.52 94.42 652.01 94.10 652.44 93.72 C652.86 93.33 653.16 92.97 653.34 92.62 L654.02 92.62 Z" fill="#ee2a24" stroke="#ee2a24" stroke-width="0.15"/></g>
<g transform="translate(0 132.00) scale(1 1.045) translate(0 -132.00)"><text x="633.40" y="132.00" font-size="11.7" fill="#2626e6" stroke="#2626e6">0.  cd-s-m<tspan font-size="7" dx="0.4" dy="-5.8">-2</tspan></text><path d="M647.52 132.00 L646.49 132.00 L646.49 125.45 C646.24 125.68 645.92 125.92 645.52 126.16 C645.12 126.39 644.76 126.57 644.44 126.69 L644.44 125.69 C645.01 125.42 645.51 125.10 645.93 124.72 C646.35 124.33 646.65 123.97 646.83 123.62 L647.52 123.62 Z" fill="#2626e6" stroke="#2626e6" stroke-width="0.15"/></g>
<g transform="translate(0 170.00) scale(1 1.045) translate(0 -170.00)"><text x="633.40" y="170.00" font-size="11.7" fill="#8e1e1e" stroke="#8e1e1e">  cd-s-m<tspan font-size="7" dx="0.4" dy="-5.8">-2</tspan></text><path d="M637.76 170.00 L636.73 170.00 L636.73 163.45 C636.48 163.68 636.16 163.92 635.76 164.16 C635.36 164.39 635.00 164.57 634.69 164.69 L634.69 163.69 C635.25 163.42 635.75 163.10 636.17 162.72 C636.59 162.33 636.90 161.97 637.07 161.62 L637.76 161.62 Z" fill="#8e1e1e" stroke="#8e1e1e" stroke-width="0.15"/></g>
<g transform="translate(0 220.00) scale(1 1.045) translate(0 -220.00)"><text x="633.40" y="220.00" font-size="11.7" fill="#258d25" stroke="#258d25"> 0 cd-s-m<tspan font-size="7" dx="0.4" dy="-5.8">-2</tspan></text><path d="M637.76 220.00 L636.73 220.00 L636.73 213.45 C636.48 213.68 636.16 213.92 635.76 214.16 C635.36 214.39 635.00 214.57 634.69 214.69 L634.69 213.69 C635.25 213.42 635.75 213.10 636.17 212.72 C636.59 212.33 636.90 211.97 637.07 211.62 L637.76 211.62 Z" fill="#258d25" stroke="#258d25" stroke-width="0.15"/></g>
</svg></body></html>
